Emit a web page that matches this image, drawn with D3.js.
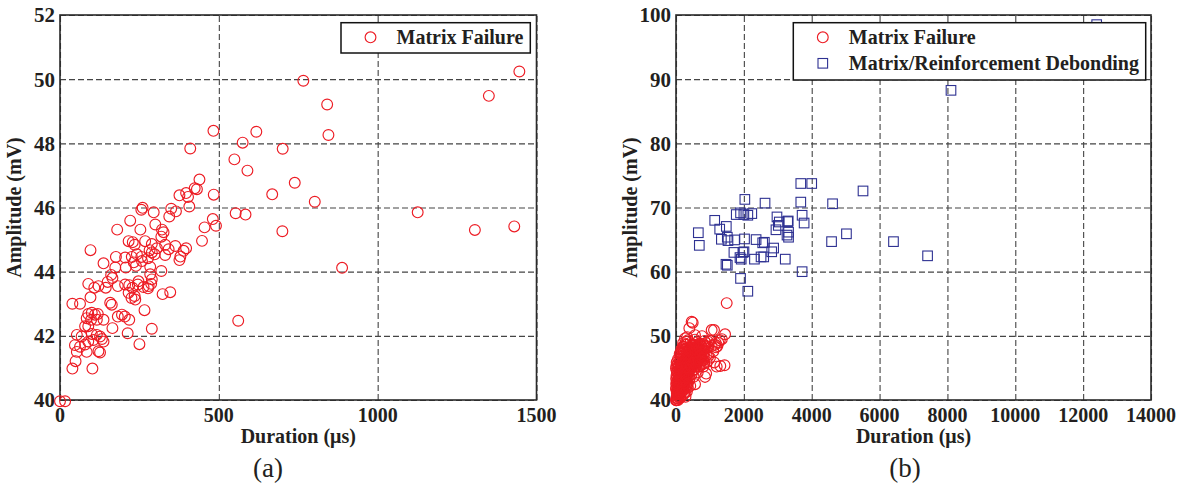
<!DOCTYPE html>
<html><head><meta charset="utf-8">
<script src="https://cdn.jsdelivr.net/npm/d3@7"></script>
<style>
body{margin:0;background:#fff;}
text{font-family:"Liberation Serif","Times New Roman",serif;}
</style></head>
<body><svg id="c" width="1189" height="492"></svg>
<script>
// ---- data ----
const xTicksA = [0, 500, 1000, 1500];
const yTicksA = [40, 42, 44, 46, 48, 50, 52];
const xTicksB = [0, 2000, 4000, 6000, 8000, 10000, 12000, 14000];
const yTicksB = [40, 50, 60, 70, 80, 90, 100];
const legendA = ["Matrix Failure"];
const legendB = ["Matrix Failure", "Matrix/Reinforcement Debonding"];

// (a) Matrix failure: [duration µs, amplitude mV]
const matrixFailureA = [
[410,47.84],[549,47.5],[590,47.15],
[439,46.87],[424,46.6],[431,46.57],[397,46.45],[376,46.38],[403,46.33],[484,46.4],
[260,45.99],[256,45.93],[295,45.85],[350,45.96],[365,45.88],[344,45.72],[407,46.03],[553,45.82],
[481,45.64],[491,45.43],[455,45.38],[221,45.59],[180,45.31],
[253,45.31],[300,45.47],[321,45.31],[326,45.23],[319,45.09],
[216,44.95],[229,44.92],[235,44.84],[268,44.95],[289,44.86],[305,44.73],[282,44.67],[289,44.6],[331,44.84],[342,44.7],[363,44.8],[397,44.73],[389,44.65],[331,44.52],[379,44.47],[376,44.36],
[447,44.96],[96,44.67],
[176,44.46],[205,44.44],[226,44.46],[242,44.54],[256,44.46],[298,44.54],[277,44.42],[258,44.33],[239,44.18],[207,44.13],[232,44.29],
[137,44.26],[174,44.13],[284,44.15],
[319,44.02],[284,43.92],[289,43.76],[279,43.55],[247,43.7],[161,43.9],[165,43.8],[150,43.68],
[89,43.62],[108,43.5],[121,43.55],[96,43.2],
[144,43.5],[182,43.55],[205,43.6],[218,43.58],[228,43.5],[216,43.34],[235,43.24],[225,43.18],[237,43.13],[245,43.6],
[263,43.52],[287,43.62],[277,43.48],[323,43.3],[347,43.36],
[158,43.03],[163,42.97],[39,43.0],[63,43.0],[266,42.8],
[89,42.68],[100,42.72],[110,42.66],[119,42.68],[84,42.55],[98,42.5],[116,42.5],[137,42.5],[182,42.6],[195,42.66],[204,42.6],[218,42.5],[79,42.3],[89,42.3],[165,42.24],[213,42.08],[289,42.22],
[561,42.47],
[53,42.03],[68,41.98],[100,42.06],[116,42.03],[126,41.98],[137,41.82],[47,41.71],[63,41.66],[79,41.73],[89,41.82],[105,41.87],[132,41.9],[121,41.52],[126,41.48],[53,41.5],[84,41.5],[49,41.21],[39,40.98],[102,40.98],[250,41.74],
[0,39.96],[16,39.96],
[483,48.39],[575,48.02],[618,48.36],[701,47.83],[739,46.77],[668,46.41],[584,45.78],
[766,49.95],[841,49.21],[845,48.26],[802,46.18],[1126,45.85],[1446,50.24],[1350,49.48],
[700,45.26],[888,44.12],[1306,45.3],[1430,45.41]
];

// (b) additional matrix-failure hits (on top of those in (a))
const matrixFailureBExtra = [
[10,40.3],[40,40.6],[70,40.2],[100,40.9],[130,40.4],[160,41.2],[200,40.7],[240,41.0],[280,40.5],[320,41.3],
[30,41.5],[60,42.1],[90,41.8],[120,42.6],[150,43.1],[180,42.2],[220,43.5],[260,42.8],[300,43.2],[340,42.4],[380,43.0],[420,42.2],
[20,42.8],[40,43.6],[70,44.2],[100,44.8],[130,45.3],[160,44.1],[200,45.6],[240,46.2],[280,45.1],[320,46.6],[360,44.3],[400,45.8],
[440,47.1],[480,46.3],[520,47.6],[560,45.2],[600,46.9],[650,48.1],[700,47.3],[750,46.1],[800,47.8],[850,48.5],[900,47.0],
[950,48.3],[1000,46.6],[1050,48.4],[1100,47.6],[1150,48.6],[1180,48.2],[1250,48.9],[1290,49.3],[1220,48.4],
[805,45.2],[855,43.6],[1199,45.2],[1120,50.9],[1051,50.9],[462,52.2],[393,51.2],[560,50.1],[265,49.6],[197,48.3],[492,52.05],[1494,55.1],
[943,49.1],[300,48.6],[350,49.3],[420,48.9],[560,49.4],[620,49.0],[700,48.8],[880,48.9],[1000,49.2],[1170,48.9],
[150,47.4],[100,46.3],[50,45.6],[20,45.9],[0,44.9],[5,43.3],[0,41.7],[15,40.0],[60,40.0],[110,40.3],
[180,46.8],[230,47.5],[280,47.9],[330,48.0],[380,47.6],[450,48.2],[520,48.6],[600,47.9],[660,47.0],[720,46.6],
[760,45.5],[820,46.7],[900,45.9],[950,46.8],[380,45.9],[430,46.6],[500,44.6],[540,46.5],[600,45.5],[640,44.3],
[400,43.3],[460,44.0],[520,43.6],[350,41.9],[30,40.3],[80,40.6],[180,41.6],[220,42.0],[260,41.2],[310,42.1],
[25,41.1],[45,42.4],[75,43.1],[95,43.9],[125,44.4],[155,45.0],[185,45.8],[215,46.5],[245,47.0],[275,46.4],
[305,47.3],[335,46.9],[365,47.8],[395,47.2],[425,48.0],[455,47.5],[485,48.7],[515,47.0],[545,48.1],[575,47.4],
[605,48.3],[635,47.6],[665,48.5],[695,48.0],[725,47.6],[755,48.3],[785,47.1],[815,48.7],[845,47.4],[875,48.0],
[35,44.3],[55,44.9],[85,45.4],[115,45.9],[145,46.4],[175,47.1],[205,47.8],[235,48.3],[265,48.7],[295,49.1],
[50,40.9],[90,41.3],[140,41.0],[190,41.9],[230,42.6],[270,43.8],[310,44.2],[350,45.1],[390,44.7],[430,45.3],
[470,45.1],[510,45.8],[550,44.8],[590,46.3],[630,45.9],[670,46.0],[710,45.6],[740,47.0],[780,46.4],[830,45.8],
[10,41.9],[15,43.8],[25,44.5],[5,42.5],[10,45.3],[60,46.4],[110,47.2],[160,47.9],[210,48.9],[330,49.8]
];

// (b) Matrix/Reinforcement debonding
const debondingB = [
[3678,73.74],[4000,73.74],[5512,72.58],[2029,71.26],[2624,70.68],[3678,70.84],[4615,70.58],
[1776,68.9],[1902,69.16],[2000,68.9],[2117,68.79],[2234,69.05],[1141,68.0],[2976,68.53],[3717,68.79],[3307,67.9],[3776,67.58],[3044,67.74],[3015,67.21],[2946,66.53],[1483,67.05],[1288,66.63],[658,66.07],[687,64.1],[3317,66.16],[3317,65.37],
[1337,65.05],[1512,65.37],[1532,64.84],[1727,64.95],[2020,65.1],[2361,65.0],[2605,64.58],[5024,65.9],[4585,64.68],[6410,64.68],[7415,62.47],[2878,63.68],[2820,63.1],
[1707,63.0],[1971,63.0],[1922,61.95],[2312,61.95],[2507,62.3],[2585,62.3],[3220,61.95],[1512,61.0],[1473,61.15],[3717,60.0],[1902,58.95],[2117,56.95],
[1886,62.2],[2004,63.1],[2555,64.5],[3292,67.8],[3272,65.7],
[8105,88.26],[12399,98.5]
];

// ---- drawing ----
const svg = d3.select("#c");
const RED = "#ed1c24", BLUE = "#2e3192", INK = "#231f20";
const yTop = 15, yBot = 400;

function panel(cfg){
  const x = d3.scaleLinear().domain(cfg.xDomain).range([cfg.left, cfg.right]);
  const y = d3.scaleLinear().domain(cfg.yDomain).range([yBot, yTop]);
  const g = svg.append("g");
  const gx = g.append("g").attr("transform", `translate(0,${yBot})`)
    .call(d3.axisBottom(x).tickValues(cfg.xTicks).tickSize(-(yBot-yTop)).tickFormat(""));
  const gy = g.append("g").attr("transform", `translate(${cfg.left},0)`)
    .call(d3.axisLeft(y).tickValues(cfg.yTicks).tickSize(-(cfg.right-cfg.left)).tickFormat(""));
  [gx, gy].forEach(a => {
    a.select(".domain").remove();
    a.selectAll("line").attr("stroke", "#444").attr("stroke-width", 1.1).attr("stroke-dasharray", "6,3");
  });
  g.selectAll(".xl").data(cfg.xTicks).enter().append("text")
    .attr("x", d => x(d)).attr("y", 422).attr("text-anchor", "middle")
    .attr("font-size", 20).attr("font-weight", "bold").attr("fill", INK).text(d => d);
  g.selectAll(".yl").data(cfg.yTicks).enter().append("text")
    .attr("x", cfg.left - 5).attr("y", d => y(d)).attr("dy", "0.35em").attr("text-anchor", "end")
    .attr("font-size", 21).attr("font-weight", "bold").attr("fill", INK).text(d => d);
  g.append("text").attr("x", (cfg.left + cfg.right)/2).attr("y", 443).attr("text-anchor", "middle")
    .attr("font-size", 20).attr("font-weight", "bold").attr("fill", INK).text("Duration (μs)");
  g.append("text").attr("transform", `translate(${cfg.left - 39},${(yTop+yBot)/2}) rotate(-90)`)
    .attr("text-anchor", "middle").attr("font-size", 20).attr("font-weight", "bold").attr("fill", INK)
    .text("Amplitude (mV)");
  g.append("text").attr("x", cfg.capX).attr("y", 477).attr("text-anchor", "middle")
    .attr("font-size", 27).attr("fill", INK).text(cfg.cap);
  g.append("rect").attr("x", cfg.left).attr("y", yTop).attr("width", cfg.right - cfg.left).attr("height", yBot - yTop)
    .attr("fill", "none").attr("stroke", "#2a2a2a").attr("stroke-width", 1.6);
  return {g, x, y};
}

function circles(p, data){
  p.g.append("g").selectAll("circle").data(data).enter().append("circle")
    .attr("cx", d => p.x(d[0])).attr("cy", d => p.y(d[1])).attr("r", 5.4)
    .attr("fill", "none").attr("stroke", RED).attr("stroke-width", 1.15);
}
function squares(p, data){
  p.g.append("g").selectAll("rect").data(data).enter().append("rect")
    .attr("x", d => p.x(d[0]) - 4.8).attr("y", d => p.y(d[1]) - 4.8).attr("width", 9.6).attr("height", 9.6)
    .attr("fill", "none").attr("stroke", BLUE).attr("stroke-width", 1.1);
}
function legend(p, box, items){
  const lg = p.g.append("g");
  lg.append("rect").attr("x", box[0]).attr("y", box[1]).attr("width", box[2]).attr("height", box[3])
    .attr("fill", "#fff").attr("stroke", "#111").attr("stroke-width", 1.5);
  items.forEach((it, i) => {
    const cy = box[1] + 14.6 + i * 26;
    const mx = box[0] + 29.5;
    if (it.shape === "circle")
      lg.append("circle").attr("cx", mx).attr("cy", cy).attr("r", 5.4).attr("fill", "none").attr("stroke", RED).attr("stroke-width", 1.15);
    else
      lg.append("rect").attr("x", mx - 4.8).attr("y", cy - 4.8).attr("width", 9.6).attr("height", 9.6)
        .attr("fill", "none").attr("stroke", BLUE).attr("stroke-width", 1.1);
    lg.append("text").attr("x", box[0] + 55.5).attr("y", cy).attr("dy", "0.35em")
      .attr("font-size", 20).attr("font-weight", "bold").attr("fill", INK).text(it.label);
  });
}

const pA = panel({left: 60, right: 536.5, xDomain: [0, 1500], yDomain: [40, 52], xTicks: xTicksA, yTicks: yTicksA, cap: "(a)", capX: 268});
circles(pA, matrixFailureA);
legend(pA, [341, 22.7, 189.3, 30.3], [{shape: "circle", label: legendA[0]}]);

const pB = panel({left: 676, right: 1151, xDomain: [0, 14000], yDomain: [40, 100], xTicks: xTicksB, yTicks: yTicksB, cap: "(b)", capX: 905});
circles(pB, matrixFailureA.concat(matrixFailureBExtra));
squares(pB, debondingB);
legend(pB, [793.3, 22.7, 352.4, 57.3], [{shape: "circle", label: legendB[0]}, {shape: "square", label: legendB[1]}]);
</script></body></html>
